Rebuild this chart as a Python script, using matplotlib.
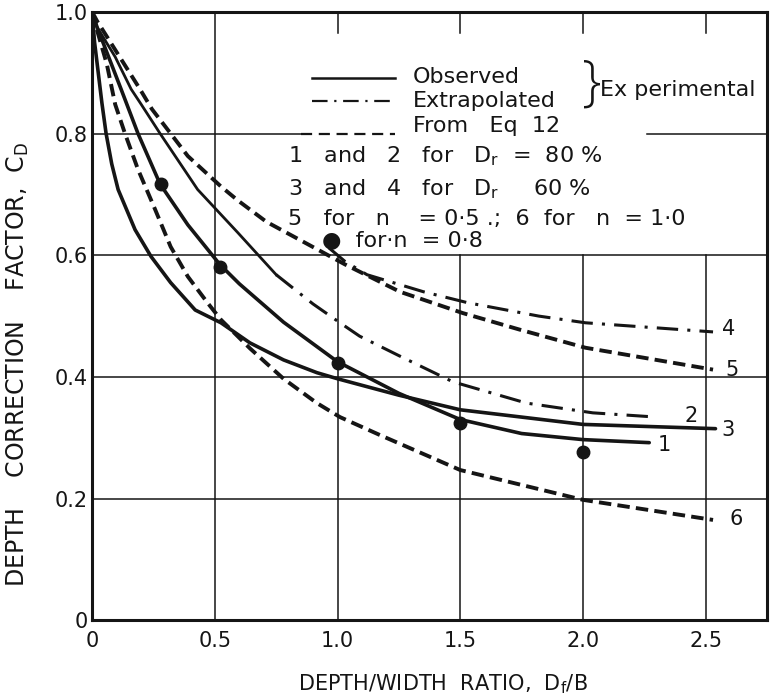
import matplotlib
matplotlib.use("Agg")
import matplotlib.pyplot as plt

plt.rcParams['font.family'] = ['DejaVu Sans']
plt.rcParams['mathtext.default'] = 'regular'

INK = '#151515'

# curve 1 - observed, Dr = 80 %
c1_x = [0.0, 0.02, 0.073, 0.118, 0.187, 0.277, 0.39, 0.52, 0.60, 0.78, 1.0, 1.25, 1.5, 1.75, 2.0, 2.27]
c1_y = [1.0, 0.975, 0.92, 0.873, 0.80, 0.717, 0.65, 0.585, 0.553, 0.49, 0.425, 0.373, 0.33, 0.307, 0.297, 0.292]

# curve 2 - observed part then extrapolated, Dr = 80 %
c2_obs_x = [0.0, 0.02, 0.094, 0.159, 0.2, 0.277, 0.43, 0.594, 0.75]
c2_obs_y = [1.0, 0.975, 0.926, 0.873, 0.848, 0.80, 0.708, 0.637, 0.568]
c2_ext_x = [0.75, 0.9, 1.01, 1.09, 1.25, 1.47, 1.77, 2.04, 2.3]
c2_ext_y = [0.568, 0.52, 0.489, 0.467, 0.435, 0.392, 0.357, 0.341, 0.334]

# curve 3 - observed, Dr = 60 %
c3_x = [0.0, 0.01, 0.025, 0.04, 0.057, 0.08, 0.106, 0.175, 0.24, 0.32, 0.42, 0.525, 0.643,
        0.78, 0.916, 1.0, 1.25, 1.5, 2.0, 2.54]
c3_y = [1.0, 0.95, 0.9, 0.85, 0.80, 0.75, 0.708, 0.642, 0.598, 0.555, 0.51, 0.489, 0.456,
        0.428, 0.407, 0.397, 0.37, 0.346, 0.322, 0.315]

# curve 4 - extrapolated, Dr = 60 %
c4_x = [0.965, 1.03, 1.12, 1.35, 1.53, 1.82, 2.01, 2.53]
c4_y = [0.612, 0.59, 0.568, 0.54, 0.522, 0.50, 0.489, 0.474]

# curve 5 - Eq 12, n = 0.5
c5_x = [0.0, 0.02, 0.106, 0.195, 0.244, 0.32, 0.39, 0.525, 0.594, 0.71, 0.916, 1.03, 1.254,
        1.51, 1.74, 2.01, 2.53]
c5_y = [1.0, 0.985, 0.93, 0.873, 0.84, 0.80, 0.763, 0.713, 0.69, 0.655, 0.61, 0.585, 0.54,
        0.505, 0.478, 0.448, 0.412]

# curve 6 - Eq 12, n = 1.0
c6_x = [0.0, 0.02, 0.06, 0.094, 0.134, 0.187, 0.257, 0.32, 0.39, 0.47, 0.525, 0.643, 0.78,
        0.916, 1.01, 1.17, 1.5, 2.0, 2.53]
c6_y = [1.0, 0.97, 0.914, 0.848, 0.80, 0.741, 0.675, 0.614, 0.565, 0.522, 0.494, 0.447, 0.397,
        0.357, 0.334, 0.305, 0.247, 0.198, 0.165]

# Eq 12 points for n = 0.8
n08_x = [0.28, 0.52, 1.0, 1.5, 2.0]
n08_y = [0.717, 0.58, 0.423, 0.325, 0.277]

x_ticks = [0, 0.5, 1.0, 1.5, 2.0, 2.5]
x_ticklabels = ['0', '0.5', '1.0', '1.5', '2.0', '2.5']
y_ticks = [0, 0.2, 0.4, 0.6, 0.8, 1.0]
y_ticklabels = ['0', '0.2', '0.4', '0.6', '0.8', '1.0']

fig = plt.figure(figsize=(7.74, 6.97), dpi=100)
ax = fig.add_axes([0.119, 0.110, 0.872, 0.873])
ax.set_xlim(0, 2.75)
ax.set_ylim(0, 1.0)

# grid drawn by hand so the key block stays clear
gkw = dict(color=INK, lw=1.1, zorder=1)
ax.axvline(0.5, **gkw)
for xv in x_ticks[2:]:
    ax.plot([xv, xv], [0, 0.6], **gkw)
    ax.plot([xv, xv], [0.965, 1.0], **gkw)
for yv in [0.2, 0.4, 0.6]:
    ax.axhline(yv, **gkw)
ax.plot([0, 0.85], [0.8, 0.8], **gkw)
ax.plot([2.26, 2.75], [0.8, 0.8], **gkw)

solid = dict(color=INK, lw=2.6, solid_capstyle='round', zorder=3)
dashed = dict(color=INK, lw=2.8, dashes=(3.2, 1.6), zorder=3)
dashdot = dict(color=INK, lw=2.2, dashes=(7, 3, 1, 3), zorder=3)

ax.plot(c1_x, c1_y, **solid)
ax.plot(c2_obs_x, c2_obs_y, color=INK, lw=2.0, zorder=3)
ax.plot(c2_ext_x, c2_ext_y, **dashdot)
ax.plot(c3_x, c3_y, **solid)
ax.plot(c4_x, c4_y, **dashdot)
ax.plot(c5_x, c5_y, **dashed)
ax.plot(c6_x, c6_y, **dashed)
ax.plot(n08_x, n08_y, 'o', color=INK, ms=9, zorder=4)

# curve numbers at the right-hand ends
curve_ends = [(c1_x, c1_y, '1', 11, -1.5), (c2_ext_x, c2_ext_y, '2', 25, 1),
              (c3_x, c3_y, '3', 9, -1), (c4_x, c4_y, '4', 11, 2),
              (c5_x, c5_y, '5', 14, 0), (c6_x, c6_y, '6', 17, 1)]
for xs, ys, lab, dx, dy in curve_ends:
    ax.annotate(lab, (xs[-1], ys[-1]), xytext=(dx, dy), textcoords='offset points',
                ha='center', va='center', fontsize=15, color=INK)

# key
ax.plot([0.896, 1.234], [0.891, 0.891], color=INK, lw=1.8)
ax.plot([0.896, 1.234], [0.853, 0.853], color=INK, lw=1.6, dashes=(7, 3, 1, 3))
ax.plot([0.85, 1.234], [0.8, 0.8], color=INK, lw=1.6, dashes=(5, 3))
tkw = dict(fontsize=16, color=INK, va='center', ha='left')
ax.text(1.307, 0.893, 'Observed', **tkw)
ax.text(1.307, 0.853, 'Extrapolated', **tkw)
ax.text(1.307, 0.812, 'From   Eq  12', **tkw)
ax.text(2.035, 0.880, '}', fontsize=40, color=INK, va='center', ha='center',
        family=['Open Sans', 'DejaVu Sans'], fontweight='light')
ax.text(2.068, 0.872, 'Ex perimental', **tkw)
ax.text(0.80, 0.763, '1   and   2   for   D$_r$  =  80 %', **tkw)
ax.text(0.80, 0.708, '3   and   4   for   D$_r$     60 %', **tkw)
ax.text(0.80, 0.659, '5   for   n    = 0\u00b75 .;  6  for   n  = 1\u00b70', **tkw)
ax.text(0.935, 0.624, '\u25cf  for\u00b7n  = 0\u00b78', **tkw)

ax.set_xticks(x_ticks)
ax.set_xticklabels(x_ticklabels)
ax.set_yticks(y_ticks)
ax.set_yticklabels(y_ticklabels)
ax.tick_params(length=0, labelsize=15, colors=INK)
ax.tick_params(axis='x', pad=8)
ax.tick_params(axis='y', pad=3)
for s in ax.spines.values():
    s.set_linewidth(2.2)
    s.set_color(INK)

ax.set_xlabel('DEPTH/WIDTH  RATIO,  D$_f$/B', fontsize=15, color=INK)
ax.xaxis.set_label_coords(0.519, -0.086)
ax.set_ylabel('DEPTH    CORRECTION    FACTOR,  C$_D$', fontsize=17, color=INK)
ax.yaxis.set_label_coords(-0.09, 0.42)

fig.savefig('out.png', dpi=100, facecolor='white')
